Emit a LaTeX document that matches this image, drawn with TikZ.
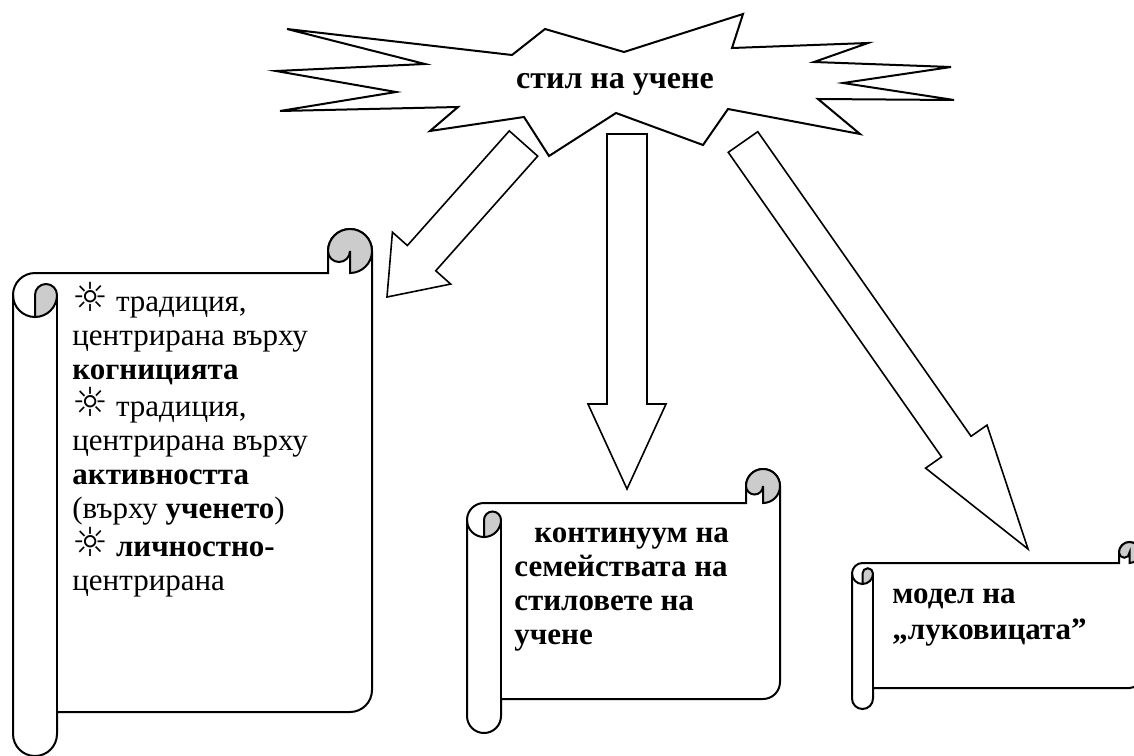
\documentclass[tikz,border=0pt]{standalone}
\usepackage{fontspec}
\setmainfont{Liberation Serif}
\newfontfamily\sunfont{DejaVu Sans}
\usetikzlibrary{calc}

\tikzset{
  outline/.style={draw,line width=1pt,line join=miter},
  curl/.style={outline,fill=black!20},
  blockarrow/.style={draw,line width=0.8pt,fill=white,line join=miter},
  scrolltext/.style={anchor=north west,align=left,inner sep=0pt,font=\fontsize{15.5}{17}\selectfont}
}
\newcommand{\sun}{{\sunfont\fontsize{20}{17}\selectfont ☼}}

% body left, top, right, bottom, roll width
\newcommand{\drawscroll}[5]{
  \pgfmathsetmacro\rh{#5/2}\pgfmathsetmacro\rq{#5/4}
  \draw[outline,fill=white] ({#1-#5},{#2+\rh}) arc[start angle=180,end angle=270,radius=\rh]
    -- ({#3-#5},#2) -- ({#3-#5},{#2-\rh}) arc[start angle=180,end angle=360,radius=\rh]
    -- (#3,{#4-\rh}) arc[start angle=0,end angle=90,radius=\rh]
    -- (#1,#4) -- (#1,{#4+\rh}) arc[start angle=0,end angle=180,radius=\rh] -- cycle;
  \draw[outline] (#1,{#2+\rh}) -- (#1,{#4+\rh});
  \draw[outline] ({#1-#5},{#2+\rh}) arc[start angle=180,end angle=90,radius=\rh];
  \draw[curl] ({#1-\rh},{#2+#5}) arc[start angle=90,end angle=0,radius=\rh]
    arc[start angle=0,end angle=-180,radius=\rq] -- cycle;
  \draw[curl] ({#3-\rh},#2) arc[start angle=90,end angle=-180,radius=\rh]
    arc[start angle=180,end angle=0,radius=\rq] -- cycle;
}

% start, tip, shaft half width, head half width, head length
\newcommand{\blockarrow}[5]{
  \coordinate (#1h) at ($(#2)!#5!(#1)$);
  \draw[blockarrow] ($(#1)!#3!90:(#2)$) -- ($(#1h)!#3!90:(#2)$) -- ($(#1h)!#4!90:(#2)$) -- (#2)
    -- ($(#1h)!#4!-90:(#2)$) -- ($(#1h)!#3!-90:(#2)$) -- ($(#1)!#3!-90:(#2)$) -- cycle;
}

\begin{document}
\begin{tikzpicture}[x=0.5pt,y=-0.5pt]
\path[fill=white] (0,0) rectangle (1134,755);
\useasboundingbox (0,0) rectangle (1134,755);

\draw[outline,fill=white] (287,29) -- (512,55) -- (545,29) -- (624,52) -- (743,14) -- (732,48)
  -- (868,43) -- (814,62) -- (951,67) -- (843,83) -- (954,100) -- (818,99) -- (860,134)
  -- (728,109) -- (703,145) -- (616,113) -- (549,156) -- (524,117) -- (430,131) -- (458,107)
  -- (280,111) -- (396,92) -- (276,71) -- (425,64) -- cycle;
\node[font=\bfseries\fontsize{16}{18}\selectfont] (style) at (615,84) {стил на учене};

\coordinate (fromL) at (523.5,143.5); \coordinate (toL) at (387,297);
\coordinate (fromM) at (627,134);     \coordinate (toM) at (627,489);
\coordinate (fromR) at (743,142);     \coordinate (toR) at (1028,549);
\blockarrow{fromL}{toL}{9.5pt}{19.5pt}{26pt}
\blockarrow{fromM}{toM}{10pt}{19.5pt}{42.5pt}
\blockarrow{fromR}{toR}{9pt}{18.75pt}{62.5pt}

\drawscroll{57}{273}{372}{712}{44}
\drawscroll{501}{503}{780}{699}{34}
\drawscroll{873}{563}{1140}{688}{21}

\node[scrolltext] (traditions) at (72,282) {\sun{} традиция,\\центрирана върху\\\textbf{когницията}\\
  \sun{} традиция,\\центрирана върху\\\textbf{активността}\\(върху \textbf{ученето})\\
  \sun{} \textbf{личностно-}\\центрирана};
\node[scrolltext,font=\bfseries\fontsize{15.5}{17}\selectfont] (continuum) at (514,527)
  {\hspace{10pt}континуум на\\семействата на\\стиловете на\\учене};
\node[scrolltext,font=\bfseries\fontsize{15.5}{18}\selectfont] (onion) at (892,588)
  {модел на\\„луковицата”};
\end{tikzpicture}
\end{document}
